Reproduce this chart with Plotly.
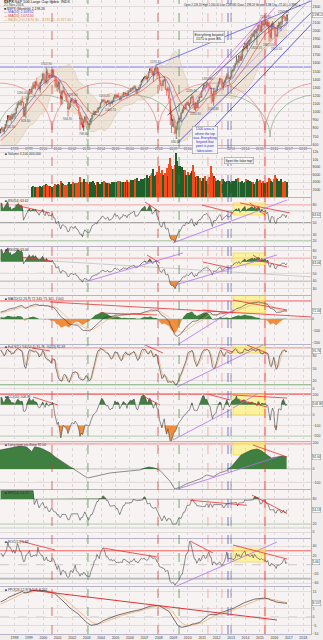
import numpy as np
import pandas as pd
import plotly.graph_objects as go
from plotly.subplots import make_subplots

# ===================== DATA (monthly, read / estimated) =====================
# warm-up closes (used only so the indicators are settled by 1997)
close_1992 = [408.8, 412.7, 403.7, 414.9, 415.4, 408.1, 424.2, 414.0, 417.8, 418.7, 431.4, 435.7]
close_1993 = [438.8, 443.4, 451.7, 440.2, 450.2, 450.5, 448.1, 463.6, 458.9, 467.8, 461.8, 466.5]
close_1994 = [481.6, 467.1, 445.8, 450.9, 456.5, 444.3, 458.3, 475.5, 462.7, 472.4, 454.0, 459.3]
close_1995 = [470.4, 487.4, 500.7, 514.7, 533.4, 544.8, 562.1, 561.9, 584.4, 581.5, 605.4, 615.9]
close_1996 = [636.0, 640.4, 645.5, 654.2, 669.1, 670.6, 639.9, 652.0, 687.3, 705.3, 757.0, 740.7]

close_1997 = [786.2, 790.8, 757.1, 801.3, 848.3, 885.1, 954.3, 899.5, 947.3, 914.6, 955.4, 970.4]
high_1997 = [794.7, 817.7, 814.9, 812.9, 851.9, 898.7, 961.3, 960.3, 960.6, 983.1, 973.5, 986.3]
low_1997 = [737.0, 773.4, 756.0, 733.5, 793.2, 829.8, 879.0, 899.5, 896.0, 855.3, 905.7, 928.8]
close_1998 = [980.3, 1049.3, 1101.8, 1111.8, 1090.8, 1133.8, 1120.7, 957.3, 1017.0, 1098.7, 1163.6, 1229.2]
high_1998 = [992.6, 1050.0, 1106.2, 1132.0, 1122.1, 1141.0, 1190.6, 1121.0, 1066.0, 1102.5, 1192.7, 1244.9]
low_1998 = [912.8, 980.0, 1047.0, 1076.7, 1086.7, 1074.5, 1119.0, 939.9, 939.9, 923.3, 1094.5, 1136.9]
close_1999 = [1279.6, 1238.3, 1286.4, 1335.2, 1301.8, 1372.7, 1328.7, 1320.4, 1282.7, 1362.9, 1388.9, 1469.3]
high_1999 = [1280.7, 1281.9, 1316.6, 1362.8, 1375.9, 1376.8, 1420.3, 1352.2, 1361.0, 1373.2, 1404.0, 1473.1]
low_1999 = [1212.2, 1217.9, 1226.2, 1282.5, 1281.2, 1277.7, 1327.4, 1268.1, 1261.6, 1233.7, 1348.0, 1387.4]
close_2000 = [1394.5, 1366.4, 1498.6, 1452.4, 1420.6, 1454.6, 1430.8, 1517.7, 1436.5, 1429.4, 1315.2, 1320.3]
high_2000 = [1478.0, 1444.6, 1552.9, 1527.2, 1481.5, 1474.6, 1517.3, 1525.2, 1530.1, 1454.8, 1438.5, 1389.1]
low_2000 = [1350.1, 1325.1, 1346.6, 1339.4, 1361.1, 1415.0, 1413.9, 1421.7, 1419.4, 1305.8, 1294.9, 1254.1]
close_2001 = [1366.0, 1239.9, 1160.3, 1249.5, 1255.8, 1224.4, 1211.2, 1133.6, 1040.9, 1059.8, 1139.5, 1148.1]
high_2001 = [1383.4, 1376.4, 1267.4, 1269.3, 1315.9, 1286.6, 1239.8, 1226.3, 1155.4, 1110.6, 1163.4, 1173.0]
low_2001 = [1274.6, 1228.3, 1081.2, 1091.9, 1232.0, 1203.0, 1165.5, 1124.9, 944.8, 1026.8, 1054.3, 1114.9]
close_2002 = [1130.2, 1106.7, 1147.4, 1076.9, 1067.1, 989.8, 911.6, 916.1, 815.3, 885.8, 936.3, 879.8]
high_2002 = [1176.6, 1130.2, 1173.0, 1147.8, 1099.3, 1067.7, 994.5, 965.0, 924.0, 907.4, 951.6, 954.3]
low_2002 = [1101.2, 1074.4, 1106.7, 1063.5, 1048.0, 952.9, 775.7, 837.7, 800.2, 768.6, 872.1, 869.5]
close_2003 = [855.7, 841.2, 848.2, 916.9, 963.6, 974.5, 990.3, 1008.0, 996.0, 1050.7, 1058.2, 1111.9]
high_2003 = [935.0, 864.6, 895.9, 924.2, 965.4, 1015.3, 1015.4, 1011.0, 1040.3, 1053.8, 1063.7, 1112.6]
low_2003 = [840.3, 806.3, 788.9, 847.8, 902.8, 963.4, 962.1, 960.8, 990.4, 996.0, 1031.2, 1053.4]
close_2004 = [1131.1, 1144.9, 1126.2, 1107.3, 1120.7, 1140.8, 1101.7, 1104.2, 1114.6, 1130.2, 1173.8, 1211.9]
high_2004 = [1155.4, 1159.0, 1163.2, 1150.6, 1127.7, 1146.3, 1140.8, 1108.6, 1131.5, 1142.1, 1188.5, 1217.3]
low_2004 = [1105.1, 1124.4, 1087.2, 1107.2, 1076.3, 1113.3, 1078.8, 1060.7, 1101.3, 1090.2, 1127.6, 1173.8]
close_2005 = [1181.3, 1203.6, 1180.6, 1156.9, 1191.5, 1191.3, 1234.2, 1220.3, 1228.8, 1207.0, 1249.5, 1248.3]
high_2005 = [1217.9, 1212.2, 1229.1, 1191.9, 1199.6, 1219.6, 1245.2, 1245.9, 1243.1, 1233.3, 1270.6, 1275.8]
low_2005 = [1163.8, 1180.0, 1176.7, 1136.2, 1146.2, 1188.3, 1183.6, 1201.1, 1205.4, 1168.2, 1201.1, 1245.7]
close_2006 = [1280.1, 1280.7, 1294.9, 1310.6, 1270.1, 1270.2, 1276.7, 1303.8, 1335.9, 1377.9, 1400.6, 1418.3]
high_2006 = [1294.9, 1297.6, 1310.9, 1326.7, 1326.7, 1290.7, 1280.4, 1306.7, 1340.3, 1389.5, 1407.9, 1431.8]
low_2006 = [1245.7, 1253.6, 1268.4, 1285.9, 1245.3, 1219.3, 1224.5, 1261.3, 1294.0, 1327.1, 1360.0, 1385.9]
close_2007 = [1438.2, 1406.8, 1420.9, 1482.4, 1530.6, 1503.4, 1455.3, 1474.0, 1526.8, 1549.4, 1481.1, 1468.4]
high_2007 = [1441.6, 1461.6, 1438.9, 1498.0, 1535.6, 1540.6, 1555.9, 1503.9, 1538.7, 1576.1, 1549.4, 1523.6]
low_2007 = [1403.9, 1389.4, 1364.0, 1416.4, 1476.7, 1484.2, 1454.3, 1370.6, 1439.5, 1489.6, 1406.1, 1435.6]
close_2008 = [1378.6, 1330.6, 1322.7, 1385.6, 1400.4, 1280.0, 1267.4, 1282.8, 1166.4, 968.8, 896.2, 903.3]
high_2008 = [1471.8, 1396.0, 1359.7, 1397.0, 1440.2, 1404.1, 1292.2, 1313.2, 1303.0, 1167.0, 1007.5, 918.9]
low_2008 = [1270.1, 1316.8, 1257.0, 1320.0, 1373.1, 1272.0, 1200.4, 1248.6, 1106.4, 839.8, 741.0, 815.7]
close_2009 = [825.9, 735.1, 797.9, 872.8, 919.1, 919.3, 987.5, 1020.6, 1057.1, 1036.2, 1095.6, 1115.1]
high_2009 = [943.9, 877.9, 833.0, 888.7, 930.2, 956.2, 996.7, 1039.5, 1080.2, 1101.4, 1113.7, 1130.4]
low_2009 = [804.5, 734.5, 666.8, 783.3, 866.1, 888.9, 869.3, 978.5, 992.0, 1020.0, 1029.4, 1085.9]
close_2010 = [1073.9, 1104.5, 1169.4, 1186.7, 1089.4, 1030.7, 1101.6, 1049.3, 1141.2, 1183.3, 1180.6, 1257.6]
high_2010 = [1150.5, 1112.4, 1180.7, 1219.8, 1206.8, 1131.2, 1121.0, 1129.2, 1150.8, 1196.1, 1227.1, 1262.6]
low_2010 = [1071.6, 1044.5, 1101.0, 1165.0, 1040.8, 1028.3, 1010.9, 1039.7, 1047.4, 1131.9, 1173.0, 1186.6]
close_2011 = [1286.1, 1327.2, 1325.8, 1363.6, 1345.2, 1320.6, 1292.3, 1218.9, 1131.4, 1253.3, 1247.0, 1257.6]
high_2011 = [1302.7, 1344.1, 1332.3, 1366.6, 1370.6, 1345.2, 1356.5, 1307.4, 1229.3, 1292.7, 1277.6, 1267.1]
low_2011 = [1257.6, 1282.9, 1249.1, 1294.7, 1311.8, 1258.1, 1282.9, 1101.5, 1114.2, 1074.8, 1158.7, 1202.4]
close_2012 = [1312.4, 1365.7, 1408.5, 1397.9, 1310.3, 1362.2, 1379.3, 1406.6, 1440.7, 1412.2, 1416.2, 1426.2]
high_2012 = [1333.5, 1378.0, 1419.2, 1422.4, 1415.3, 1363.5, 1391.7, 1426.7, 1474.5, 1471.0, 1434.3, 1448.0]
low_2012 = [1257.6, 1312.4, 1340.0, 1357.4, 1292.0, 1266.7, 1325.4, 1354.7, 1396.6, 1403.3, 1343.4, 1398.1]
close_2013 = [1498.1, 1514.7, 1569.2, 1597.6, 1630.7, 1606.3, 1685.7, 1633.0, 1681.6, 1756.5, 1805.8, 1848.4]
high_2013 = [1509.9, 1530.9, 1570.3, 1597.6, 1687.2, 1654.2, 1698.0, 1709.7, 1729.9, 1775.2, 1813.6, 1849.4]
low_2013 = [1426.2, 1485.0, 1501.5, 1536.0, 1581.3, 1560.3, 1604.6, 1627.5, 1633.0, 1646.5, 1746.2, 1768.0]
close_2014 = [1782.6, 1859.5, 1872.3, 1883.9, 1923.6, 1960.2, 1930.7, 2003.4, 1972.3, 2018.1, 2067.6, 2058.9]
high_2014 = [1850.8, 1867.9, 1884.0, 1897.3, 1924.0, 1968.2, 1991.4, 2005.0, 2019.3, 2018.2, 2075.8, 2093.6]
low_2014 = [1770.5, 1737.9, 1834.4, 1814.4, 1859.8, 1916.0, 1930.0, 1904.8, 1964.0, 1820.7, 2001.0, 1972.6]
close_2015 = [1995.0, 2104.5, 2067.9, 2085.5, 2107.4, 2063.1, 2103.8, 1972.2, 1920.0, 2079.4, 2080.4, 2043.9]
high_2015 = [2064.4, 2119.6, 2117.5, 2125.9, 2134.7, 2130.0, 2132.8, 2112.7, 2020.9, 2094.3, 2116.5, 2104.3]
low_2015 = [1988.1, 1980.9, 2039.7, 2048.4, 2067.9, 2056.3, 2044.0, 1867.0, 1871.9, 1893.7, 2019.4, 1993.3]
close_2016 = [1940.2, 1932.2, 2059.7, 2065.3, 2096.9, 2098.9, 2173.6, 2170.9, 2168.3, 2126.2, 2198.2]
high_2016 = [2038.2, 1963.0, 2072.2, 2111.1, 2103.5, 2120.6, 2177.1, 2193.8, 2187.9, 2169.6, 2200.0]
low_2016 = [1812.3, 1810.1, 1937.1, 2033.8, 2025.9, 1991.7, 2074.0, 2147.6, 2119.1, 2114.7, 2083.8]

# monthly volume (chart units), series begins March 1999
vol_1999 = [2700, 3000, 2800, 2700, 2600, 2500, 2600, 2900, 2800, 2900]
vol_2000 = [3300, 3200, 3500, 3300, 3000, 2900, 2800, 2700, 3000, 3400, 3100, 3300]
vol_2001 = [3600, 3300, 4200, 3800, 3500, 3300, 3200, 3100, 3600, 4000, 3600, 3500]
vol_2002 = [3900, 3700, 3600, 3800, 3700, 4000, 5400, 3900, 4100, 4800, 4100, 3700]
vol_2003 = [3900, 3600, 3900, 3700, 4000, 4200, 3800, 3300, 3900, 4000, 3600, 3500]
vol_2004 = [4000, 3800, 4300, 3900, 3700, 3700, 3800, 3400, 3500, 4000, 3900, 3800]
vol_2005 = [4000, 3900, 4200, 4200, 4000, 4100, 3900, 4000, 4100, 4500, 4100, 3900]
vol_2006 = [4500, 4100, 4600, 4200, 4900, 5000, 4400, 4300, 4400, 4800, 4700, 4100]
vol_2007 = [5100, 5000, 5800, 5200, 5700, 5900, 6300, 7400, 5500, 5900, 6600, 5200]
vol_2008 = [8200, 6400, 7200, 6000, 5600, 6300, 7700, 5500, 8900, 10400, 8300, 7400]
vol_2009 = [7600, 8600, 11800, 9600, 8400, 8200, 6900, 8100, 7100, 7300, 5800, 5700]
vol_2010 = [6600, 5800, 6400, 6900, 8600, 6700, 5300, 5600, 5500, 5200, 5200, 4400]
vol_2011 = [5200, 4900, 5700, 4400, 4800, 5400, 4900, 8200, 6300, 5600, 5000, 4300]
vol_2012 = [4400, 4500, 4400, 4300, 4900, 4800, 4300, 4000, 4200, 4300, 4400, 4100]
vol_2013 = [4300, 4300, 4100, 4300, 4700, 5000, 4000, 3900, 3900, 4400, 3800, 3900]
vol_2014 = [4700, 4200, 4500, 4400, 4000, 3900, 3900, 3600, 3900, 4900, 3600, 4200]
vol_2015 = [4500, 3800, 4400, 3800, 3700, 4100, 4000, 5200, 4800, 4300, 4000, 4800]
vol_2016 = [5900, 5200, 4800, 4400, 4300, 4900, 3900, 3900, 4400, 4100, 4100]

# long-term oscillator panel (7th indicator pane)
p6_t = [1997.0, 1997.7, 1998.4, 1998.85, 1999.2, 1999.4, 1999.8, 2000.1, 2000.5, 2000.8, 2001.15, 2001.5,
        2001.85, 2002.2, 2002.5, 2002.9, 2003.1, 2003.5, 2003.9, 2004.6, 2005.3, 2006.0, 2006.7, 2007.3,
        2007.7, 2008.1, 2008.4, 2008.8, 2009.1, 2009.5, 2009.9, 2010.4, 2010.85, 2011.3, 2011.8, 2012.2,
        2012.7, 2013.0, 2013.4, 2013.7, 2014.1, 2014.4, 2014.8, 2015.1, 2015.5, 2015.8, 2016.2, 2016.5, 2016.85]
p6_v = [142, 157, 172, 165, 130, 167, 157, 142, 120, 92, 67, 45, 15, -7, -30, -57, -67, -57, -45, -30,
        -22, -15, -7, 15, 7, -12, -45, -95, -150, -135, -112, -95, -75, -45, -57, -30, -12, 15, 67, 105,
        127, 142, 150, 137, 105, 82, 90, 97, 92]

year_ticks = list(range(1997, 2019))
price_axis_hidden_years = [2011, 2012]   # covered by the callout box in the reference

# cycle lows (decimal years) and vertical marker dates
red_cycle_lows = [1993.25, 2000.60, 2007.94, 2015.35, 2022.75]
green_cycle_lows = [1996.78, 2003.09, 2009.40, 2015.70, 2022.0]
vmarkers = [(2000.60, '#e03030'), (2003.09, '#3a8a3a'), (2007.94, '#e03030'), (2009.40, '#3a8a3a'),
            (2011.40, '#f09090'), (2012.37, '#f09090'), (2012.79, '#4040e0'), (2013.0, '#777777'),
            (2015.35, '#e03030')]
yellow_span = (2013.14, 2015.35)

# ===================== ASSEMBLY =====================
warm = close_1992 + close_1993 + close_1994 + close_1995 + close_1996
yrs = range(1997, 2017)
main_c = sum([globals()[f'close_{y}'] for y in yrs], [])
main_h = sum([globals()[f'high_{y}'] for y in yrs], [])
main_l = sum([globals()[f'low_{y}'] for y in yrs], [])
vols = sum([globals()[f'vol_{y}'] for y in range(1999, 2017)], [])

n_pre = len(warm)
c_all = pd.Series(warm + main_c, dtype=float)
h_all = pd.Series(warm + main_h, dtype=float)
l_all = pd.Series(warm + main_l, dtype=float)
v_all = pd.Series([0.0] * (len(c_all) - len(vols)) + vols, dtype=float)
t_all = 1992 + (np.arange(len(c_all)) + 0.5) / 12.0
o_all = c_all.shift(1).fillna(c_all.iloc[0])


def rsi(s, n):
    d = s.diff()
    g = d.clip(lower=0).ewm(alpha=1.0 / n, adjust=False).mean()
    lo = (-d.clip(upper=0)).ewm(alpha=1.0 / n, adjust=False).mean()
    return 100 - 100 / (1 + g / lo)


rsi14 = rsi(c_all, 14)
rsi28 = rsi(c_all, 28)
macd = c_all.ewm(span=12).mean() - c_all.ewm(span=26).mean()
macd_sig = macd.ewm(span=9).mean()
macd_hist = macd - macd_sig
ll = l_all.rolling(14).min()
hh = h_all.rolling(14).max()
k_fast = 100 * (c_all - ll) / (hh - ll)
sto_k = k_fast.rolling(3).mean()
sto_d = sto_k.rolling(3).mean()
tp = (h_all + l_all + c_all) / 3
tp_sma = tp.rolling(20).mean()
tp_md = tp.rolling(20).apply(lambda x: np.mean(np.abs(x - x.mean())), raw=True)
cci = (tp - tp_sma) / (0.015 * tp_md)
rmf = tp * v_all
up = tp > tp.shift(1)
dn = tp < tp.shift(1)
pos = rmf.where(up, 0.0).rolling(14).sum()
neg = rmf.where(dn, 0.0).rolling(14).sum()
mfi = pd.Series(np.where(neg > 0, 100 - 100 / (1 + pos / neg.replace(0, np.nan)), 100.0))
roc12 = (c_all / c_all.shift(12) - 1) * 100
e26 = c_all.ewm(span=26).mean()
e52 = c_all.ewm(span=52).mean()
ppo_l = (e26 - e52) / e52 * 100
ppo_sig = ppo_l.ewm(span=9).mean()
sma10 = c_all.rolling(10).mean()
sma20 = c_all.rolling(20).mean()
sd20 = c_all.rolling(20).std(ddof=0)
bb_up = sma20 + 2 * sd20
bb_lo = sma20 - 2 * sd20

S = slice(n_pre, None)
t = t_all[S]


def cut(s):
    return np.asarray(s)[S]


C, H, L, O, V = cut(c_all), cut(h_all), cut(l_all), cut(o_all), cut(v_all)

# ===================== FIGURE =====================
W, HH, MB, MR = 323, 640, 6, 12
PH = HH - MB
PW = W - MR
panels = [(0, 145), (149, 197), (198, 246), (247, 295), (296, 344), (345, 393), (394, 441),
          (442, 489), (490, 538), (539, 586), (587, 634)]


def py(px):
    return (PH - px) / PH


def xr(r):
    return 'x' if r == 1 else f'x{r}'


def yr(r):
    return 'y' if r == 1 else f'y{r}'


fig = make_subplots(rows=11, cols=1, shared_xaxes=True, vertical_spacing=0)
FONT = 'Liberation Sans, Arial, sans-serif'
GREEN = '#3f7f3f'
ORANGE = '#f08c3c'
RED = '#e83030'
PURPLE = '#b070f0'

# --- price ---
fig.add_trace(go.Scatter(x=t, y=cut(bb_up), mode='lines', line=dict(color='#d9c09a', width=0.5),
                         hoverinfo='skip', showlegend=False), row=1, col=1)
fig.add_trace(go.Scatter(x=t, y=cut(bb_lo), mode='lines', line=dict(color='#d9c09a', width=0.5),
                         fill='tonexty', fillcolor='rgba(222,204,170,0.38)', hoverinfo='skip',
                         showlegend=False), row=1, col=1)


def arcs(lows, base, hgt):
    xs, ys = [], []
    th = np.linspace(0, np.pi, 60)
    for a, b in zip(lows[:-1], lows[1:]):
        cx, w = (a + b) / 2, (b - a) / 2
        xs += list(cx - w * np.cos(th)) + [None]
        ys += list(base + hgt * np.sin(th)) + [None]
    return xs, ys


ax_, ay_ = arcs(red_cycle_lows, 741, 615)
fig.add_trace(go.Scatter(x=ax_, y=ay_, mode='lines', line=dict(color='#e88080', width=0.7),
                         hoverinfo='skip', showlegend=False), row=1, col=1)
ax_, ay_ = arcs(green_cycle_lows, 691, 517)
fig.add_trace(go.Scatter(x=ax_, y=ay_, mode='lines', line=dict(color='#88aa88', width=0.7),
                         hoverinfo='skip', showlegend=False), row=1, col=1)

fig.add_trace(go.Scatter(x=t, y=cut(sma20), mode='lines', line=dict(color='#e04040', width=0.6),
                         hoverinfo='skip', showlegend=False), row=1, col=1)
fig.add_trace(go.Scatter(x=t, y=cut(sma10), mode='lines', line=dict(color='#5050c0', width=0.6),
                         hoverinfo='skip', showlegend=False), row=1, col=1)
fig.add_trace(go.Candlestick(x=t, open=O, high=H, low=L, close=C, whiskerwidth=0,
                             increasing=dict(line=dict(color='#111111', width=0.6), fillcolor='#ffffff'),
                             decreasing=dict(line=dict(color='#ff1010', width=0.6), fillcolor='#ff1010'),
                             showlegend=False), row=1, col=1)

# price extreme labels
hi_marks = ['1998-07', '2000-03', '2002-01', '2004-03', '2007-10', '2010-04', '2011-05', '2015-05', '2016-08']
lo_marks = ['1997-10', '1998-10', '2001-09', '2002-10', '2004-08', '2009-03', '2010-07',
            '2011-10', '2014-10', '2015-08', '2016-02']


def midx(s):
    y, m = s.split('-')
    return (int(y) - 1997) * 12 + int(m) - 1


for s in hi_marks:
    i = midx(s)
    fig.add_annotation(x=t[i], y=H[i], xref='x', yref='y', text=f'{H[i]:.2f}', showarrow=False,
                       yshift=3, font=dict(size=3, color='#555', family=FONT))
for s in lo_marks:
    i = midx(s)
    fig.add_annotation(x=t[i], y=L[i], xref='x', yref='y', text=f'{L[i]:.2f}', showarrow=False,
                       yshift=-3, font=dict(size=3, color='#555', family=FONT))

# --- volume ---
vcol = np.where(C >= O, '#1f5f2a', '#f24c1c')
vmask = V > 0
fig.add_trace(go.Bar(x=t[vmask], y=V[vmask], marker=dict(color=vcol[vmask], line=dict(width=0)),
                     width=1 / 12 * 0.9, showlegend=False, hoverinfo='skip'), row=2, col=1)


def add_fill(row, y, level, above, color, x=None, yaxis=None):
    x = t if x is None else x
    y = np.asarray(y, dtype=float)
    clipped = np.maximum(y, level) if above else np.minimum(y, level)
    kw = dict(mode='lines', line=dict(width=0), hoverinfo='skip', showlegend=False)
    if yaxis:
        fig.add_trace(go.Scatter(x=x, y=np.full(len(y), level), xaxis=xr(row), yaxis=yaxis, **kw))
        fig.add_trace(go.Scatter(x=x, y=clipped, fill='tonexty', fillcolor=color, xaxis=xr(row),
                                 yaxis=yaxis, **kw))
    else:
        fig.add_trace(go.Scatter(x=x, y=np.full(len(y), level), **kw), row=row, col=1)
        fig.add_trace(go.Scatter(x=x, y=clipped, fill='tonexty', fillcolor=color, **kw), row=row, col=1)


def add_line(row, y, color='#444', width=0.6, x=None, yaxis=None):
    x = t if x is None else x
    if yaxis:
        fig.add_trace(go.Scatter(x=x, y=y, mode='lines', line=dict(color=color, width=width),
                                 hoverinfo='skip', showlegend=False, xaxis=xr(row), yaxis=yaxis))
    else:
        fig.add_trace(go.Scatter(x=x, y=y, mode='lines', line=dict(color=color, width=width),
                                 hoverinfo='skip', showlegend=False), row=row, col=1)


# --- RSI(14) ---
add_fill(3, cut(rsi14), 70, True, GREEN)
add_fill(3, cut(rsi14), 30, False, ORANGE)
add_line(3, cut(rsi14))
# --- RSI(28) ---
add_fill(4, cut(rsi28), 65, True, GREEN)
add_fill(4, cut(rsi28), 40, False, ORANGE)
add_line(4, cut(rsi28))
# --- MACD: histogram on its own scale (y5), lines on y12 ---
add_fill(5, cut(macd_hist), 0, True, GREEN)
add_fill(5, cut(macd_hist), 0, False, ORANGE)
add_line(5, cut(macd_sig), '#f0a060', 0.6, yaxis='y12')
add_line(5, cut(macd), '#333', 0.6, yaxis='y12')
# --- Stochastics ---
add_line(6, cut(sto_d), '#f0a060', 0.6)
add_line(6, cut(sto_k), '#333', 0.6)
# --- CCI ---
add_fill(7, cut(cci), 100, True, GREEN)
add_fill(7, cut(cci), -100, False, ORANGE)
add_line(7, cut(cci))
# --- long-term oscillator ---
add_fill(8, p6_v, 0, True, GREEN, x=p6_t)
add_line(8, p6_v, x=p6_t)
# --- MFI ---
add_fill(9, cut(mfi), 80, True, GREEN)
add_line(9, cut(mfi))
# --- ROC ---
add_line(10, cut(roc12))
# --- long PPO ---
add_line(11, cut(ppo_sig), '#f0a060', 0.7)
add_line(11, cut(ppo_l), '#333', 0.7)

# ===================== AXES =====================
tick_font = dict(size=3.5, color='#444', family=FONT)
fig.update_xaxes(range=[1997.0, 1997.0 + PW / 14.44], tickvals=year_ticks,
                 ticktext=[str(y) for y in year_ticks], showgrid=True, gridcolor='#ddd6d6',
                 griddash='dot', gridwidth=0.5, showline=True, mirror=True, linecolor='#b8b4c8',
                 linewidth=0.6, ticks='', tickfont=tick_font, zeroline=False, domain=[0, 1])
fig.update_xaxes(showticklabels=True, row=1, col=1,
                 ticktext=['' if y in price_axis_hidden_years else str(y) for y in year_ticks])
fig.update_xaxes(showticklabels=True, row=11, col=1)
fig.update_layout(xaxis_rangeslider_visible=False)

hist_abs = float(np.nanmax(np.abs(cut(macd_hist))))
hs = hist_abs / 14.0
# long PPO: zero line sits 30 px below the pane top, 17 px above its bottom
ppo_scale = max(float(np.nanmax(cut(ppo_l))) / 27.0, -float(np.nanmin(cut(ppo_l))) / 15.5)
ppo_hi = 30 * ppo_scale
ppo_lo = -17 * ppo_scale
ppo_step = 10 if ppo_hi > 20 else 5
ppo_ticks = [k * ppo_step for k in range(int(ppo_lo // ppo_step), int(ppo_hi // ppo_step) + 1)
             if ppo_lo < k * ppo_step < ppo_hi]

last = -1
last_vals = {1: C[last], 3: cut(rsi14)[last], 4: cut(rsi28)[last], 6: cut(sto_k)[last], 7: cut(cci)[last],
             8: p6_v[-1], 9: cut(mfi)[last], 10: cut(roc12)[last], 11: cut(ppo_l)[last]}

yspecs = {
    1: dict(range=[593, 2378], tickvals=list(range(600, 2400, 100))),
    2: dict(range=[0, 12800], tickvals=[2000, 4000, 6000, 8000, 10000, 12000]),
    3: dict(range=[11.7, 91.7], tickvals=[20, 30, 50, 70, 80]),
    4: dict(range=[21.7, 84.3], tickvals=[30, 40, 50, 60, 70, 80]),
    5: dict(range=[-25 * hs, 23 * hs], showticklabels=False, showgrid=False),
    6: dict(range=[-10, 107], tickvals=[0, 20, 50, 80, 100]),
    7: dict(range=[-250, 205], tickvals=[-200, -100, 0, 100, 200]),
    8: dict(range=[-150, 202.5], tickvals=[-100, 0, 100, 200]),
    9: dict(range=[-14.2, 101.7], tickvals=[0, 20, 50, 80]),
    10: dict(range=[-46, 55.5], tickvals=[-40, -20, 0, 20, 40]),
    11: dict(range=[ppo_lo, ppo_hi], tickvals=ppo_ticks),
}
for r, (tp_, bp_) in enumerate(panels, start=1):
    spec = dict(domain=[py(bp_), py(tp_)], side='right', tickfont=tick_font, showgrid=True,
                gridcolor='#e2dcdc', gridwidth=0.5, zeroline=False, showline=True, mirror=True,
                linecolor='#b8b4c8', linewidth=0.6, ticks='', fixedrange=True)
    spec.update(yspecs[r])
    # keep tick labels clear of the current-value tag
    if r in last_vals and 'tickvals' in spec:
        lo_, hi_ = spec['range']
        ppx = (bp_ - tp_) / (hi_ - lo_)
        spec['tickvals'] = [tv for tv in spec['tickvals'] if abs(tv - last_vals[r]) * ppx > 4.5]
    fig.update_yaxes(row=r, col=1, **spec)

macd_last = float(cut(macd)[last])
macd_ticks = [tv for tv in [-200, -100, 0, 100] if abs(tv - macd_last) * 48 / 415 > 4.5]
fig.update_layout(yaxis12=dict(overlaying='y5', anchor='x5', side='right', range=[-215, 200],
                               domain=[py(344), py(296)], tickvals=macd_ticks,
                               tickfont=tick_font, showgrid=False, zeroline=False, ticks=''))

# ===================== LEVELS / TRENDLINES / BOXES =====================
shapes = []


def hline(r, v, color, width=0.6, dash='solid', yref=None):
    shapes.append(dict(type='line', xref=f'{xr(r)} domain', x0=0, x1=1, yref=yref or yr(r), y0=v, y1=v,
                       line=dict(color=color, width=width, dash=dash), layer='below'))


def seg(r, x0, y0, x1, y1, color, width=0.8, yref=None):
    shapes.append(dict(type='line', xref=xr(r), yref=yref or yr(r), x0=x0, y0=y0, x1=x1, y1=y1,
                       line=dict(color=color, width=width), layer='above'))


def ybox(r, y0, y1, yref=None):
    shapes.append(dict(type='rect', xref=xr(r), yref=yref or yr(r), x0=yellow_span[0], x1=yellow_span[1],
                       y0=y0, y1=y1, fillcolor='rgba(255,240,90,0.55)',
                       line=dict(color='rgba(240,210,40,0.9)', width=0.6), layer='below'))


# price panel trendlines
hline(1, 1552.9, '#5a5ae8', 0.8)
seg(1, 2007.8, 1576.1, 2018.6, 2370, '#5a5ae8', 0.8)
seg(1, 2009.3, 620, 2019.0, 2300, '#4848e0', 0.8)
seg(1, 2011.0, 660, 2019.3, 2220, '#4848e0', 0.9)
seg(1, 2012.9, 1337, 2018.5, 2390, '#9090f0', 0.6)
seg(1, 2008.6, 960, 2017.8, 2378, '#222222', 0.6)
seg(1, 2010.5, 1150, 2016.0, 2280, '#c060e0', 0.7)
seg(1, 2011.3, 1390, 2015.5, 2220, '#c060e0', 0.7)

# RSI(14)
for v, c_, w_, d_ in [(80, '#f07070', 0.8, 'solid'), (70, '#b8b8b8', 0.6, 'solid'), (50, '#555', 1.0, 'solid'),
                      (30, '#b8b8b8', 0.6, 'solid'), (20, '#5a9a5a', 0.8, 'solid')]:
    hline(3, v, c_, w_, d_)
ybox(3, 63.4, 83.4)
for s_ in [(1998.04, 80.0, 2000.46, 66.7), (2007.04, 85.0, 2008.08, 68.4), (2010.99, 80.0, 2013.14, 66.7),
           (2013.62, 83.4, 2017.08, 66.7), (2014.31, 83.4, 2015.35, 63.4)]:
    seg(3, *s_, RED)
seg(3, 2008.98, 16.7, 2016.88, 88.4, PURPLE)

# RSI(28)
hline(4, 70, '#f07070', 0.8)
hline(4, 50, '#aaaaaa', 0.6, 'dash')
hline(4, 40, '#5a9a5a', 0.8)
ybox(4, 60.8, 76.5)
for s_ in [(1998.39, 71.3, 2000.60, 66.0), (2007.18, 73.9, 2008.08, 63.4), (2011.06, 64.7, 2012.93, 56.9),
           (2014.52, 73.9, 2015.21, 64.7), (2014.80, 67.3, 2016.88, 58.2)]:
    seg(4, *s_, RED)
seg(4, 2000.60, 66.0, 2018.68, 45.2, '#b0b0b0', 0.6)
seg(4, 2002.89, 38.7, 2009.67, 76.5, PURPLE)
seg(4, 2009.12, 34.7, 2016.18, 73.9, PURPLE)

# MACD
hline(5, 157, '#f06060', 1.0, yref='y12')
hline(5, 0, '#999', 0.6, yref='y12')
ybox(5, 53, 230, yref='y12')
for s_ in [(2000.46, 148, 2018.68, 18), (2013.14, 165, 2016.88, 79), (2011.06, 79, 2013.14, 53),
           (2003.93, 53, 2007.87, 36)]:
    seg(5, *s_, RED, yref='y12')
seg(5, 2009.26, -224, 2013.14, 79, PURPLE, yref='y12')

# Stochastics
hline(6, 100, '#f07070', 0.8)
hline(6, 80, '#b0b0b0', 0.6)
hline(6, 50, '#999', 0.6, 'dash')
hline(6, 10, '#5a9a5a', 0.8)
ybox(6, 87.5, 115)
for s_ in [(1999.22, 99.7, 2000.46, 92.4), (2007.04, 107, 2008.29, 87.5), (2012.24, 99.7, 2013.14, 89.9),
           (2014.10, 107, 2015.49, 87.5)]:
    seg(6, *s_, RED)
seg(6, 2009.26, 4.6, 2015.49, 111.9, PURPLE)

# CCI
hline(7, 200, '#f07070', 0.9)
hline(7, 100, '#c8c8c8', 0.5)
hline(7, 0, '#b0b0b0', 0.6)
hline(7, -100, '#b0b0b0', 0.6)
hline(7, -200, '#5a9a5a', 0.8)
ybox(7, 2, 230)
for s_ in [(1999.29, 176, 2001.02, 98.5), (2006.90, 186, 2008.08, 98.5), (2011.06, 215, 2012.93, 147),
           (2013.14, 195, 2016.88, 166), (2013.62, 147, 2015.49, 79)]:
    seg(7, *s_, RED)
seg(7, 2008.98, -240, 2012.93, 50, PURPLE)
seg(7, 2013.14, 69, 2015.49, 263, PURPLE)

# long-term oscillator
hline(8, 190, '#f4b4b4', 2.0)
hline(8, 0, '#a0a0a0', 0.7)
hline(8, -100, '#aaaaaa', 0.6, 'dash')
ybox(8, 105, 205)
seg(8, 2014.52, 180, 2016.88, 90, RED)
seg(8, 2009.12, -157, 2016.18, 90, PURPLE)

# MFI
hline(9, 80, '#f4b4b4', 2.0)
hline(9, 20, '#5a9a5a', 0.8)
hline(9, 10, '#b0b0b0', 0.6)
seg(9, 2010.16, 77, 2014.10, 64.7, RED)
seg(9, 2014.45, 89.4, 2016.88, 45, RED)

# ROC
hline(10, 30, '#f06060', 1.0)
hline(10, 0, '#aaaaaa', 0.6, 'dash')
hline(10, -30, '#b8b8b8', 1.6)
ybox(10, 5.8, 40.4)
for s_ in [(1998.39, 51.2, 2000.81, 31.7), (2004.13, 36, 2007.87, 16.6), (2010.16, 51.2, 2011.75, 25.3),
           (2013.14, 42.5, 2016.88, 12.3)]:
    seg(10, *s_, RED)
seg(10, 2008.77, -52.5, 2016.18, 49, PURPLE)

# long PPO
hline(11, 0, '#aaaaaa', 0.6, 'dash')
seg(11, 1999.08, 0.9 * ppo_hi, 2016.18, -0.1 * ppo_hi, RED, 1.0)

# vertical cycle markers spanning all panes
shapes.append(dict(type='rect', xref='x', yref='paper', x0=2015.27, x1=2015.43, y0=0, y1=1,
                   fillcolor='rgba(255,140,140,0.35)', line=dict(width=0), layer='below'))
for xv, col in vmarkers:
    shapes.append(dict(type='line', xref='x', yref='paper', x0=xv, x1=xv, y0=0, y1=1,
                       line=dict(color=col, width=0.7, dash='dash'), layer='above'))

fig.update_layout(shapes=shapes)

# ===================== TEXT =====================
def txt(xpx, ypx, text, size=3.6, color='#333', anchor='left', **kw):
    fig.add_annotation(xref='paper', yref='paper', x=xpx / PW, y=py(ypx), text=text, showarrow=False,
                       xanchor=anchor, yanchor='middle', font=dict(size=size, color=color, family=FONT), **kw)


txt(2, 2, '<b>$SPX</b> S&P 500 Large Cap Index  INDX', 3.8, '#222')
txt(2, 5.5, '21-Nov-2016', 3.4, '#444')
txt(2, 9, f'■ $SPX (Monthly) {C[last]:,.2f}', 3.4, '#222')
txt(2, 12.5, f'— MA(10) {cut(sma10)[last]:,.2f}', 3.4, '#4040c0')
txt(2, 16, f'— MA(20) {cut(sma20)[last]:,.2f}', 3.4, '#e03030')
txt(2, 19.5, f'— BB(20,2.0) {cut(sma20)[last]:,.2f} - {cut(bb_up)[last]:,.2f} - {cut(bb_lo)[last]:,.2f}',
    3.4, '#c89a50')
chg = C[last] - C[last - 1]
txt(182, 5, f'Open {O[last]:,.2f} High {H[last]:,.2f} Low {L[last]:,.2f} Close {C[last]:,.2f} '
    f'Volume {V[last] / 1000:.1f}B Chg +{chg:.2f} (+{chg / C[last - 1] * 100:.2f}%) ▲', 2.7, '#222')

txt(209, 37, 'Everything beyond<br>1575 is pure BS.', 3.5, '#222', 'center', bgcolor='#f4f4f4',
    bordercolor='#888', borderwidth=0.5, borderpad=1)
txt(205, 140, '1500 area is<br>where the top<br>was. Everything<br>beyond that<br>point is pure<br>fabrication.',
    3.3, '#2a2ad0', 'center', bgcolor='#f4f4f4', bordercolor='#888', borderwidth=0.5, borderpad=0.8)
txt(239, 160, 'Spot the fake top!', 3.5, '#222', 'center', bgcolor='#f4f4f4', bordercolor='#888',
    borderwidth=0.5, borderpad=1)

labels = [
    (154.0, f'■ Volume {V[last] * 1e6:,.0f}'),
    (200.5, f'■ RSI(14) {cut(rsi14)[last]:.2f}'),
    (249.5, f'■ RSI(28) {cut(rsi28)[last]:.2f}'),
    (298.5, f'■ MACD(12,26,9) {cut(macd)[last]:.3f}, {cut(macd_sig)[last]:.3f}, {cut(macd_hist)[last]:.3f}'),
    (347.5, f'■ Full STO %K(14,3) {cut(sto_k)[last]:.2f}  %D(3) {cut(sto_d)[last]:.2f}'),
    (396.5, f'■ CCI(20) {cut(cci)[last]:.2f}'),
    (444.5, f'■ Long-term oscillator {p6_v[-1]:.2f}'),
    (492.5, f'■ MFI(14) {cut(mfi)[last]:.2f}'),
    (541.5, f'■ ROC(12) {cut(roc12)[last]:.2f}'),
    (589.5, f'■ PPO(26,52,9) {cut(ppo_l)[last]:.3f}, {cut(ppo_sig)[last]:.3f}'),
]
for ypx, s_ in labels:
    txt(3, ypx, s_, 3.3, '#333')

# current-value tags on the right axis
for r, v in last_vals.items():
    s_ = f'{v:.3f}' if r == 11 else f'{v:.2f}'
    fig.add_annotation(xref=f'{xr(r)} domain', yref=yr(r), x=1.0, y=v, text=s_, showarrow=False,
                       xanchor='left', xshift=0.5, font=dict(size=3.0, color='#222', family=FONT),
                       bgcolor='#ffffff', bordercolor='#777', borderwidth=0.4, borderpad=0.4)
fig.add_annotation(xref='x5 domain', yref='y12', x=1.0, y=macd_last, text=f'{macd_last:.2f}',
                   showarrow=False, xanchor='left', xshift=0.5, font=dict(size=3.0, color='#222', family=FONT),
                   bgcolor='#ffffff', bordercolor='#777', borderwidth=0.4, borderpad=0.4)

fig.update_layout(width=W, height=HH, margin=dict(l=0, r=MR, t=0, b=MB), paper_bgcolor='#f1eded',
                  plot_bgcolor='#f7f3f3', showlegend=False, font=dict(family=FONT, size=4),
                  bargap=0)
fig.write_html('out.html')
